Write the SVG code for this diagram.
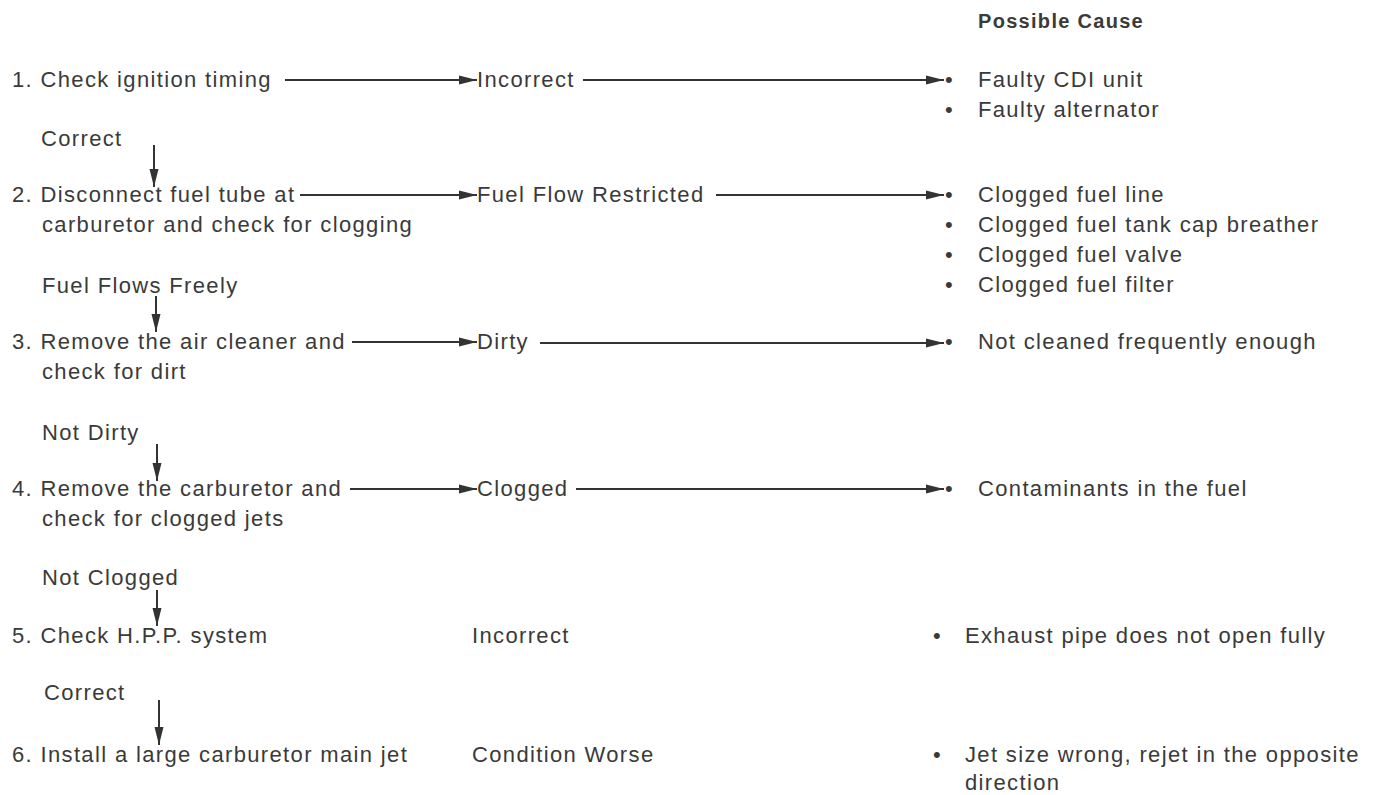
<svg xmlns="http://www.w3.org/2000/svg" width="1375" height="795" viewBox="0 0 1375 795">
<style>
.t{font-family:"Liberation Sans",Arial,Helvetica,sans-serif;font-size:22px;letter-spacing:1.35px;fill:#3a3a3a}
.h{font-family:"Liberation Sans",Arial,Helvetica,sans-serif;font-size:20px;font-weight:bold;letter-spacing:1.3px;fill:#3a3a3a}
.c{stroke:#333;stroke-width:2;fill:none;marker-end:url(#ah)}
</style>
<defs>
<marker id="ah" markerUnits="userSpaceOnUse" markerWidth="18" markerHeight="10" refX="18" refY="5" orient="auto">
<path d="M0,0.5 L18,5 L0,9.5 z" fill="#333"/>
</marker>
</defs>
<rect width="1375" height="795" fill="#fff"/>
<g id="header"><text class="h" x="978" y="28">Possible Cause</text></g>
<g id="step1"><text class="t" x="12" y="87">1. Check ignition timing</text></g>
<g id="result1"><text class="t" x="477" y="87">Incorrect</text></g>
<g id="cause1">
<text class="t" x="945" y="87">•</text><text class="t" x="978" y="87">Faulty CDI unit</text>
<text class="t" x="945" y="117">•</text><text class="t" x="978" y="117">Faulty alternator</text>
</g>
<g id="label1"><text class="t" x="41" y="146">Correct</text></g>
<g id="step2"><text class="t" x="12" y="202">2. Disconnect fuel tube at</text><text class="t" x="42" y="232">carburetor and check for clogging</text></g>
<g id="result2"><text class="t" x="477" y="202">Fuel Flow Restricted</text></g>
<g id="cause2">
<text class="t" x="945" y="202">•</text><text class="t" x="978" y="202">Clogged fuel line</text>
<text class="t" x="945" y="232">•</text><text class="t" x="978" y="232">Clogged fuel tank cap breather</text>
<text class="t" x="945" y="262">•</text><text class="t" x="978" y="262">Clogged fuel valve</text>
<text class="t" x="945" y="292">•</text><text class="t" x="978" y="292">Clogged fuel filter</text>
</g>
<g id="label2"><text class="t" x="42" y="293">Fuel Flows Freely</text></g>
<g id="step3"><text class="t" x="12" y="349">3. Remove the air cleaner and</text><text class="t" x="42" y="379">check for dirt</text></g>
<g id="result3"><text class="t" x="477" y="349">Dirty</text></g>
<g id="cause3"><text class="t" x="945" y="349">•</text><text class="t" x="978" y="349">Not cleaned frequently enough</text></g>
<g id="label3"><text class="t" x="42" y="440">Not Dirty</text></g>
<g id="step4"><text class="t" x="12" y="496">4. Remove the carburetor and</text><text class="t" x="42" y="526">check for clogged jets</text></g>
<g id="result4"><text class="t" x="477" y="496">Clogged</text></g>
<g id="cause4"><text class="t" x="945" y="496">•</text><text class="t" x="978" y="496">Contaminants in the fuel</text></g>
<g id="label4"><text class="t" x="42" y="585">Not Clogged</text></g>
<g id="step5"><text class="t" x="12" y="643">5. Check H.P.P. system</text></g>
<g id="result5"><text class="t" x="472" y="643">Incorrect</text></g>
<g id="cause5"><text class="t" x="933" y="643">•</text><text class="t" x="965" y="643">Exhaust pipe does not open fully</text></g>
<g id="label5"><text class="t" x="44" y="700">Correct</text></g>
<g id="step6"><text class="t" x="12" y="762">6. Install a large carburetor main jet</text></g>
<g id="result6"><text class="t" x="472" y="762">Condition Worse</text></g>
<g id="cause6"><text class="t" x="933" y="762">•</text><text class="t" x="965" y="762">Jet size wrong, rejet in the opposite</text><text class="t" x="965" y="790">direction</text></g>
<g id="connectors">
<line class="c" x1="285" y1="80" x2="477" y2="80"/>
<line class="c" x1="583" y1="80" x2="944" y2="80"/>
<line class="c" x1="154" y1="145" x2="154" y2="187"/>
<line class="c" x1="300" y1="195" x2="477" y2="195"/>
<line class="c" x1="716" y1="195" x2="944" y2="195"/>
<line class="c" x1="156" y1="296" x2="156" y2="332"/>
<line class="c" x1="352" y1="342" x2="477" y2="342"/>
<line class="c" x1="540" y1="343" x2="944" y2="343"/>
<line class="c" x1="157" y1="444" x2="157" y2="481"/>
<line class="c" x1="350" y1="489" x2="477" y2="489"/>
<line class="c" x1="576" y1="489" x2="944" y2="489"/>
<line class="c" x1="157" y1="590" x2="157" y2="626"/>
<line class="c" x1="159" y1="700" x2="159" y2="745"/>
</g>
</svg>
